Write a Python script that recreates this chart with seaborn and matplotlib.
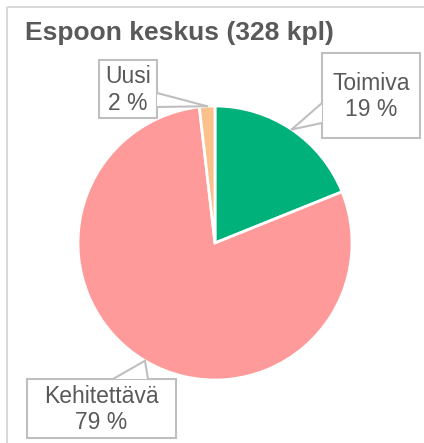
import numpy as np
import matplotlib
matplotlib.use("Agg")
import matplotlib.pyplot as plt
from matplotlib.patches import Rectangle, Polygon
import seaborn as sns

# data
labels = ["Toimiva", "Kehitettävä", "Uusi"]
counts = [62, 260, 6]
pct_labels = ["19 %", "79 %", "2 %"]
colors = ["#00b279", "#ff9a9a", "#fbc18c"]
title = "Espoon keskus (328 kpl)"

sns.set_theme(style="white")
plt.rcParams["font.family"] = ["Liberation Sans", "DejaVu Sans"]

W, H = 424, 443
fig = plt.figure(figsize=(W / 100, H / 100), dpi=100)

# pie axes, square in pixels: centre (215, 243), radius 137
cx, cy, r = 215, 243, 137
ax = fig.add_axes([(cx - r) / W, (H - cy - r) / H, 2 * r / W, 2 * r / H])
wedges, _ = ax.pie(counts, colors=colors, startangle=90, counterclock=False,
                   wedgeprops=dict(edgecolor="white", linewidth=2))
ax.set_xlim(-1, 1)
ax.set_ylim(-1, 1)
ax.set_aspect("equal")
ax.axis("off")

# overlay in pixel coords
ov = fig.add_axes([0, 0, 1, 1], facecolor="none")
ov.set_xlim(0, W)
ov.set_ylim(H, 0)
ov.axis("off")

# outer chart frame
ov.add_patch(Rectangle((7, 7), W, H, fill=False, edgecolor="#d9d9d9", linewidth=1.5))

ov.text(25, 33, title, fontsize=19, fontweight="bold", color="#595959",
        ha="left", va="center")

# callout boxes: (x0, y0, x1, y1) and tail base points
boxes = {
    "Toimiva": ((322, 53, 420, 138), [(322, 103), (322, 123)]),
    "Kehitettävä": ((27, 379, 176, 438), [(113, 379), (148, 379)]),
    "Uusi": ((99, 60, 157, 118), [(157, 93), (157, 107)]),
}
edge = "#bfbfbf"
for w, lab, pct in zip(wedges, labels, pct_labels):
    mid = np.deg2rad((w.theta1 + w.theta2) / 2)
    tip = ax.transData.transform((np.cos(mid), np.sin(mid)))
    tip = ov.transData.inverted().transform(tip)
    (x0, y0, x1, y1), base = boxes[lab]
    ov.add_patch(Rectangle((x0, y0), x1 - x0, y1 - y0, facecolor="white",
                           edgecolor=edge, linewidth=1.5, zorder=3))
    ov.add_patch(Polygon([base[0], tuple(tip), base[1]], closed=True,
                         facecolor="white", edgecolor="none", zorder=4))
    for b in base:
        ov.plot([b[0], tip[0]], [b[1], tip[1]], color=edge, linewidth=1.5, zorder=5)
    ov.text((x0 + x1) / 2, (y0 + y1) / 2 + 1, f"{lab}\n{pct}", fontsize=16.5,
            color="#595959", ha="center", va="center", linespacing=1.2, zorder=6)

fig.savefig("out.png", dpi=100)
